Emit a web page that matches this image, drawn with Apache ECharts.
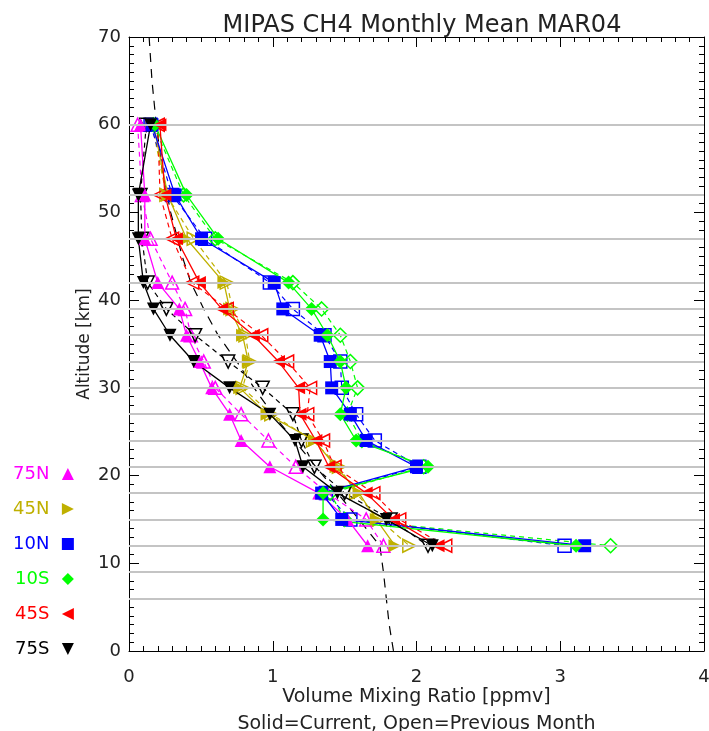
<!DOCTYPE html>
<html>
<head>
<meta charset="utf-8">
<script src="https://cdn.jsdelivr.net/npm/echarts@6/dist/echarts.min.js"></script>
<style>html,body{margin:0;padding:0;background:#fff;}#c{width:709px;height:731px;}</style>
</head>
<body>
<div id="c"></div>
<script>
// ---- data ----
const altitudes = [60, 52, 47, 42, 39, 36, 33, 30, 27, 24, 21, 18, 15, 12];
const gridAltitudes = [60, 52, 47, 42, 39, 36, 33, 30, 27, 24, 21, 18, 15, 12, 9, 6];
const bands = ['75N', '45N', '10N', '10S', '45S', '75S'];

const cur75N  = [0.08, 0.11, 0.11, 0.20, 0.35, 0.40, 0.49, 0.575, 0.70, 0.78, 0.98, 1.32, 1.52, 1.66];
const prev75N = [0.06, 0.09, 0.15, 0.30, 0.39, 0.43, 0.52, 0.60, 0.78, 0.97, 1.16, 1.38, 1.65, 1.77];
const cur45N  = [0.17, 0.27, 0.40, 0.66, 0.70, 0.79, 0.83, 0.77, 0.96, 1.29, 1.44, 1.60, 1.72, 1.85];
const prev45N = [0.16, 0.26, 0.45, 0.68, 0.72, 0.81, 0.84, 0.79, 0.99, 1.28, 1.46, 1.58, 1.74, 1.95];
const cur10N  = [0.16, 0.32, 0.505, 1.01, 1.07, 1.33, 1.40, 1.41, 1.54, 1.65, 2.00, 1.34, 1.48, 3.17];
const prev10N = [0.15, 0.30, 0.53, 0.98, 1.14, 1.36, 1.47, 1.48, 1.58, 1.71, 2.02, 1.37, 1.54, 3.03];
const cur10S  = [0.18, 0.40, 0.62, 1.11, 1.27, 1.38, 1.47, 1.51, 1.47, 1.58, 2.08, 1.35, 1.35, 3.11];
const prev10S = [0.17, 0.38, 0.60, 1.14, 1.34, 1.47, 1.54, 1.59, 1.52, 1.62, 2.05, 1.40, 1.50, 3.35];
const cur45S  = [0.215, 0.25, 0.33, 0.49, 0.645, 0.865, 1.04, 1.18, 1.19, 1.30, 1.39, 1.65, 1.84, 2.15];
const prev45S = [0.20, 0.216, 0.30, 0.44, 0.68, 0.92, 1.10, 1.26, 1.24, 1.35, 1.43, 1.70, 1.88, 2.20];
const cur75S  = [0.15, 0.065, 0.065, 0.10, 0.17, 0.285, 0.45, 0.70, 0.98, 1.155, 1.21, 1.45, 1.79, 2.11];
const prev75S = [0.12, 0.08, 0.09, 0.13, 0.26, 0.46, 0.69, 0.93, 1.14, 1.20, 1.29, 1.50, 1.82, 2.08];

const refAltitudes = [70, 65, 60, 55, 50, 45, 42, 39, 36, 33, 30, 27, 24, 21, 18, 15, 12, 9, 6, 3, 0];
const refValues    = [0.14, 0.16, 0.19, 0.23, 0.29, 0.37, 0.43, 0.52, 0.62, 0.75, 0.87, 1.00, 1.15, 1.30, 1.45, 1.60, 1.745, 1.77, 1.79, 1.81, 1.84];

const xTicks = [0, 1, 2, 3, 4];
const yTicks = [0, 10, 20, 30, 40, 50, 60, 70];

// ---- styling ----
const FONT = 'DejaVu Sans';
const TXT = '#222';
const styles = {
  '75N': {color: '#ff00ff', symbol: 'triangle', rot: 0},
  '45N': {color: '#bfb000', symbol: 'triangle', rot: -90},
  '10N': {color: '#0000ff', symbol: 'rect', rot: 0},
  '10S': {color: '#00ff00', symbol: 'diamond', rot: 0},
  '45S': {color: '#ff0000', symbol: 'triangle', rot: 90},
  '75S': {color: '#000000', symbol: 'triangle', rot: 180}
};
const curData = {'75N': cur75N, '45N': cur45N, '10N': cur10N, '10S': cur10S, '45S': cur45S, '75S': cur75S};
const prevData = {'75N': prev75N, '45N': prev45N, '10N': prev10N, '10S': prev10S, '45S': prev45S, '75S': prev75S};

function pairs(vals, alts) { return vals.map((v, i) => [v, alts[i]]); }

const series = [];
series.push({
  type: 'line', name: 'grid', data: [], silent: true, z: 1,
  markLine: {
    silent: true, symbol: ['none', 'none'], label: {show: false},
    lineStyle: {color: '#c4c4c4', width: 2, type: 'solid'},
    data: gridAltitudes.map(a => ({yAxis: a}))
  }
});
series.push({
  type: 'line', name: 'ref', data: pairs(refValues, refAltitudes), showSymbol: false, symbol: 'none',
  lineStyle: {color: '#000', width: 1.2, type: [9, 7]}, z: 2, silent: true
});
bands.forEach(b => {
  const s = styles[b];
  series.push({
    type: 'line', name: b + ' prev', data: pairs(prevData[b], altitudes),
    symbol: s.symbol, symbolRotate: s.rot, symbolSize: s.symbol === 'diamond' ? 14 : 13,
    lineStyle: {color: s.color, width: 1.2, type: [5, 4]},
    itemStyle: {color: 'rgba(0,0,0,0)', borderColor: s.color, borderWidth: 1.5},
    z: 3, silent: true
  });
});
bands.forEach(b => {
  const s = styles[b];
  series.push({
    type: 'line', name: b, data: pairs(curData[b], altitudes),
    symbol: s.symbol, symbolRotate: s.rot, symbolSize: s.symbol === 'diamond' ? 14 : 13,
    lineStyle: {color: s.color, width: 1.3},
    itemStyle: {color: s.color},
    z: 4, silent: true
  });
});

const axisLine = {show: true, onZero: false, lineStyle: {color: '#000', width: 1}};
const option = {
  animation: false,
  backgroundColor: '#fff',
  title: {
    text: 'MIPAS CH4 Monthly Mean MAR04', left: 417, top: 9, textAlign: 'center',
    textStyle: {fontFamily: FONT, fontSize: 24, fontWeight: 'normal', color: TXT}
  },
  legend: {
    orient: 'vertical', left: 8, top: 460, align: 'right', itemWidth: 15, itemHeight: 15, itemGap: 17,
    symbolRotate: 'inherit',
    lineStyle: {opacity: 0, width: 0},
    textStyle: {fontFamily: FONT, fontSize: 18, lineHeight: 18, padding: [0, 6, 0, 0]},
    data: bands.map(b => ({name: b, textStyle: {color: styles[b].color}}))
  },
  grid: {left: 129, right: 5, top: 37, bottom: 80, outerBoundsMode: 'none', containLabel: false},
  xAxis: [
    {
      type: 'value', position: 'bottom', min: xTicks[0], max: xTicks[xTicks.length - 1], interval: 1,
      axisLine, axisTick: {show: true, inside: true, length: 10, lineStyle: {color: '#000'}},
      minorTick: {show: true, splitNumber: 10, length: 5, lineStyle: {color: '#000'}},
      splitLine: {show: false},
      axisLabel: {fontFamily: FONT, fontSize: 18, color: TXT, margin: 17},
      name: 'Volume Mixing Ratio [ppmv]\nSolid=Current, Open=Previous Month',
      nameLocation: 'middle', nameGap: 33, nameMoveOverlap: false,
      nameTextStyle: {fontFamily: FONT, fontSize: 19, color: TXT, lineHeight: 27}
    },
    {
      type: 'value', position: 'top', min: xTicks[0], max: xTicks[xTicks.length - 1], interval: 1,
      axisLine, axisTick: {show: true, inside: true, length: 10, lineStyle: {color: '#000'}},
      minorTick: {show: true, splitNumber: 10, length: 5, lineStyle: {color: '#000'}},
      splitLine: {show: false}, axisLabel: {show: false}
    }
  ],
  yAxis: [
    {
      type: 'value', position: 'left', min: yTicks[0], max: yTicks[yTicks.length - 1], interval: 10,
      axisLine, axisTick: {show: true, inside: true, length: 10, lineStyle: {color: '#000'}},
      minorTick: {show: true, splitNumber: 10, length: 5, lineStyle: {color: '#000'}},
      splitLine: {show: false},
      axisLabel: {fontFamily: FONT, fontSize: 18, color: TXT, margin: 8},
      name: 'Altitude [km]', nameLocation: 'middle', nameGap: 36, nameRotate: 90, nameMoveOverlap: false,
      nameTextStyle: {fontFamily: FONT, fontSize: 17, color: TXT}
    },
    {
      type: 'value', position: 'right', min: yTicks[0], max: yTicks[yTicks.length - 1], interval: 10,
      axisLine, axisTick: {show: true, inside: true, length: 10, lineStyle: {color: '#000'}},
      minorTick: {show: true, splitNumber: 10, length: 5, lineStyle: {color: '#000'}},
      splitLine: {show: false}, axisLabel: {show: false}
    }
  ],
  series: series
};
const chart = echarts.init(document.getElementById('c'), null, {renderer: 'canvas'});
chart.setOption(option);
</script>
</body>
</html>
